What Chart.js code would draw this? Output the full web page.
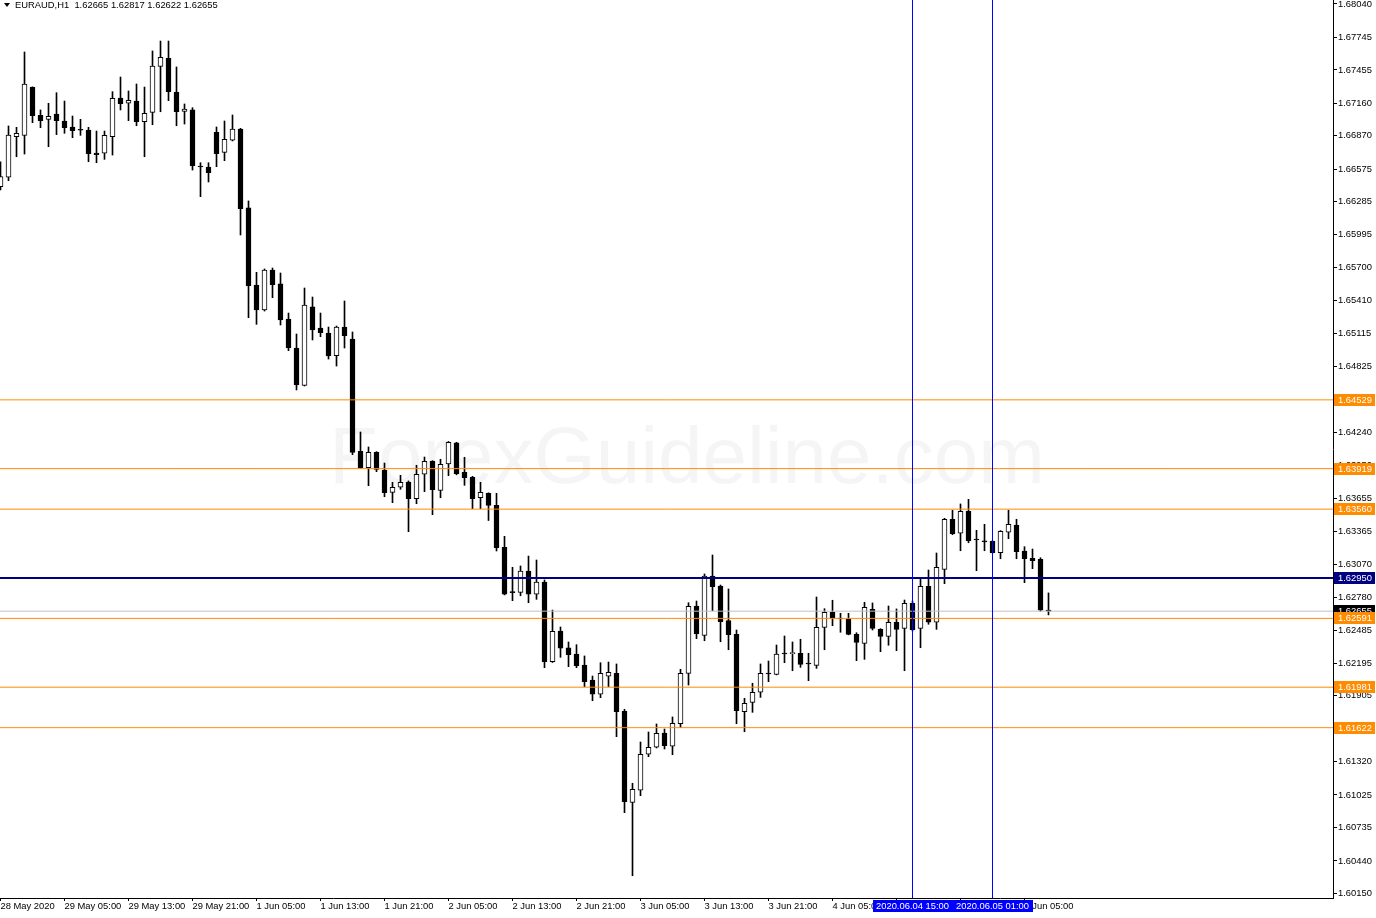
<!DOCTYPE html>
<html>
<head>
<meta charset="utf-8">
<script src="https://cdn.jsdelivr.net/npm/chart.js@4.4.0/dist/chart.umd.min.js"></script>
<style>
  html, body { margin: 0; padding: 0; background: #ffffff; }
  #wrap { width: 1376px; height: 918px; position: relative; }
</style>
</head>
<body>
<div id="wrap"><canvas id="chart"></canvas></div>
<script>
// EURAUD H1 candles, 28 May 21:00 .. 5 Jun 08:00 (one value per bar)
var opens = [1.66419,1.66503,1.66863,1.66875,1.67301,1.67053,1.67017,1.67064,1.67002,1.66949,
  1.66922,1.66922,1.66718,1.66716,1.66863,1.67206,1.67159,1.67179,1.66996,1.67079,
  1.67487,1.67558,1.67259,1.67088,1.67100,1.66603,1.66594,1.66902,1.66724,1.66831,
  1.66931,1.66231,1.65548,1.65326,1.65681,1.65557,1.65246,1.64989,1.64658,1.65353,
  1.65166,1.65122,1.64921,1.65175,1.65069,1.64073,1.63927,1.64064,1.63907,1.63709,
  1.63754,1.63801,1.63653,1.63869,1.63984,1.63727,1.63960,1.64147,1.63887,1.63842,
  1.63661,1.63700,1.63594,1.63222,1.62825,1.62822,1.63011,1.62805,1.62914,1.62207,
  1.62479,1.62329,1.62275,1.62178,1.62045,1.61918,1.62078,1.62104,1.61767,1.60960,
  1.61067,1.61386,1.61448,1.61575,1.61457,1.61657,1.62104,1.62701,1.62441,1.62967,
  1.62878,1.62571,1.62450,1.61764,1.61847,1.61936,1.62104,1.62095,1.62278,1.62278,
  1.62282,1.62193,1.62175,1.62512,1.62645,1.62592,1.62588,1.62450,1.62370,1.62672,
  1.62494,1.62432,1.62557,1.62503,1.62725,1.62503,1.62876,1.62557,1.63026,1.63470,
  1.63346,1.63541,1.63292,1.63275,1.63275,1.63174,1.63355,1.63419,1.63189,1.63124,
  1.63115,1.62665];
var highs = [1.66641,1.66958,1.66946,1.67614,1.67305,1.67100,1.67159,1.67253,1.67179,1.67046,
  1.67017,1.66946,1.66913,1.66913,1.67262,1.67392,1.67268,1.67330,1.67303,1.67623,
  1.67711,1.67711,1.67481,1.67153,1.67120,1.66632,1.66632,1.66949,1.67002,1.67055,
  1.66937,1.66293,1.65660,1.65690,1.65698,1.65654,1.65299,1.65113,1.65521,1.65441,
  1.65299,1.65175,1.65184,1.65406,1.65131,1.64244,1.64111,1.64070,1.63969,1.63798,
  1.63860,1.63810,1.63949,1.64022,1.63990,1.64002,1.64160,1.64153,1.64020,1.63851,
  1.63798,1.63705,1.63700,1.63319,1.63044,1.63056,1.63144,1.63109,1.62932,1.62665,
  1.62515,1.62382,1.62358,1.62258,1.62080,1.62198,1.62204,1.62187,1.61785,1.61129,
  1.61495,1.61584,1.61655,1.61610,1.61717,1.62140,1.62730,1.62745,1.62985,1.63153,
  1.62887,1.62852,1.62488,1.61882,1.62016,1.62187,1.62213,1.62355,1.62435,1.62382,
  1.62406,1.62282,1.62781,1.62677,1.62752,1.62636,1.62636,1.62464,1.62734,1.62728,
  1.62500,1.62701,1.62675,1.62754,1.62745,1.62947,1.63020,1.63171,1.63479,1.63550,
  1.63606,1.63647,1.63372,1.63425,1.63280,1.63370,1.63550,1.63470,1.63227,1.63206,
  1.63129,1.62817];
var lows = [1.66390,1.66473,1.66685,1.66709,1.66987,1.66943,1.66774,1.66881,1.66893,1.66854,
  1.66875,1.66641,1.66632,1.66662,1.66700,1.67100,1.67005,1.66960,1.66685,1.66969,
  1.67084,1.67182,1.66960,1.66975,1.66567,1.66331,1.66461,1.66597,1.66650,1.66825,
  1.65991,1.65258,1.65199,1.65317,1.65435,1.65193,1.64965,1.64617,1.64652,1.65060,
  1.65089,1.64891,1.64829,1.64989,1.64043,1.63920,1.63768,1.63892,1.63670,1.63617,
  1.63736,1.63360,1.63608,1.63715,1.63511,1.63661,1.63857,1.63865,1.63771,1.63564,
  1.63564,1.63459,1.63189,1.62799,1.62748,1.62792,1.62730,1.62760,1.62154,1.62200,
  1.62246,1.62163,1.62154,1.61985,1.61861,1.61888,1.61985,1.61542,1.60868,1.60309,
  1.61019,1.61365,1.61442,1.61433,1.61382,1.61622,1.62000,1.62411,1.62393,1.62659,
  1.62384,1.62313,1.61657,1.61586,1.61758,1.61891,1.62030,1.62090,1.62198,1.62127,
  1.62157,1.62039,1.62148,1.62313,1.62526,1.62468,1.62445,1.62216,1.62228,1.62488,
  1.62296,1.62353,1.62305,1.62127,1.62479,1.62331,1.62539,1.62494,1.62899,1.63333,
  1.63191,1.63262,1.63014,1.63191,1.63170,1.63120,1.63298,1.63120,1.62908,1.63032,
  1.62655,1.62622];
var closes = [1.66508,1.66878,1.66893,1.67330,1.67049,1.67005,1.67044,1.67005,1.66943,1.66916,
  1.66920,1.66712,1.66703,1.66875,1.67203,1.67155,1.67186,1.66996,1.67070,1.67490,
  1.67567,1.67262,1.67084,1.67108,1.66606,1.66594,1.66544,1.66712,1.66840,1.66931,
  1.66224,1.65541,1.65326,1.65681,1.65550,1.65237,1.64989,1.64661,1.65370,1.65149,
  1.65125,1.64918,1.65175,1.65098,1.64064,1.63927,1.64064,1.63913,1.63706,1.63754,
  1.63798,1.63653,1.63869,1.63984,1.63732,1.63958,1.64153,1.63874,1.63839,1.63653,
  1.63709,1.63592,1.63218,1.62807,1.62819,1.63011,1.62805,1.62914,1.62207,1.62477,
  1.62326,1.62269,1.62172,1.62030,1.61918,1.62104,1.62113,1.61764,1.60966,1.61076,
  1.61386,1.61448,1.61572,1.61462,1.61661,1.62104,1.62698,1.62455,1.62967,1.62872,
  1.62562,1.62446,1.61773,1.61838,1.61936,1.62104,1.62098,1.62275,1.62275,1.62282,
  1.62184,1.62187,1.62512,1.62645,1.62592,1.62586,1.62450,1.62379,1.62689,1.62503,
  1.62432,1.62557,1.62494,1.62725,1.62491,1.62876,1.62557,1.63044,1.63470,1.63342,
  1.63541,1.63280,1.63286,1.63269,1.63174,1.63363,1.63425,1.63182,1.63120,1.63103,
  1.62665,1.62655];

// time axis: one label every 8 bars
var timeTickBars = [0, 8, 16, 24, 32, 40, 48, 56, 64, 72, 80, 88, 96, 104, 112, 120, 128];
var timeLabels = ["28 May 2020", "29 May 05:00", "29 May 13:00", "29 May 21:00", "1 Jun 05:00",
  "1 Jun 13:00", "1 Jun 21:00", "2 Jun 05:00", "2 Jun 13:00", "2 Jun 21:00", "3 Jun 05:00",
  "3 Jun 13:00", "3 Jun 21:00", "4 Jun 05:00", "4 Jun 13:00", "4 Jun 21:00", "5 Jun 05:00"];

var priceTicks = [1.68040, 1.67745, 1.67455, 1.67160, 1.66870, 1.66575, 1.66285, 1.65995,
  1.65700, 1.65410, 1.65115, 1.64825, 1.64530, 1.64240, 1.63950, 1.63655, 1.63365, 1.63070,
  1.62780, 1.62485, 1.62195, 1.61905, 1.61610, 1.61320, 1.61025, 1.60735, 1.60440, 1.60150];

// horizontal levels drawn on the chart
var levelPrices = [1.64529, 1.63919, 1.63560, 1.62591, 1.61981, 1.61622];
var pivotPrice = 1.62950;
var bidPrice = 1.62655;
var title = "EURAUD,H1  1.62665 1.62817 1.62622 1.62655";

// vertical lines
var markerBars = [114, 124];
var markerLabels = ["2020.06.04 15:00", "2020.06.05 01:00"];

var FONT = '"Liberation Sans", Arial, sans-serif';
var FSIZE = 9.4;
var ORANGE = "#FF8C00";

var xMin = -0.0625, xMax = xMin + 1333 / 8;
var yMax = 1.68075, yMin = yMax - 898 * 0.00008868;

var bodies = [], wicks = [], bodyColors = [];
for (var i = 0; i < opens.length; i++) {
  bodies.push({ x: i, y: [opens[i], closes[i]] });
  wicks.push({ x: i, y: [lows[i], highs[i]] });
  bodyColors.push(closes[i] > opens[i] ? "#ffffff" : "#000000");
}

function hLine(price, color, width) {
  return {
    type: "line",
    data: [{ x: xMin, y: price }, { x: xMax, y: price }],
    borderColor: color, borderWidth: width,
    pointRadius: 0, fill: false, order: -1
  };
}
function vLine(bar) {
  return {
    type: "line",
    data: [{ x: bar, y: yMin }, { x: bar, y: yMax }],
    borderColor: "#0000FF", borderWidth: 1,
    pointRadius: 0, fill: false, order: -2
  };
}

var datasets = [
  { type: "bar", data: wicks, backgroundColor: "#000000", borderWidth: 0,
    barThickness: 1, grouped: false, order: 2 },
  { type: "bar", data: bodies, backgroundColor: bodyColors, borderColor: "#000000",
    borderWidth: 1, borderSkipped: false, barThickness: 5, minBarLength: 1,
    grouped: false, order: 1 }
];
levelPrices.forEach(function (p) { datasets.push(hLine(p, ORANGE, 1)); });
datasets.push(hLine(bidPrice, "#C0C0C0", 1));
datasets.push(hLine(pivotPrice, "#000080", 2));
markerBars.forEach(function (b) { datasets.push(vLine(b)); });

var overlay = {
  id: "overlay",
  beforeDatasetsDraw: function (chart) {
    var ctx = chart.ctx;
    ctx.save();
    ctx.font = '80px ' + FONT;
    ctx.fillStyle = "rgba(0,0,0,0.04)";
    ctx.textAlign = "center";
    ctx.textBaseline = "middle";
    ctx.fillText("ForexGuideline.com", 687, 461);
    ctx.restore();
  },
  afterDraw: function (chart) {
    var ctx = chart.ctx, y = chart.scales.y, x = chart.scales.x;
    ctx.save();
    ctx.font = FSIZE + 'px ' + FONT;
    ctx.textBaseline = "middle";
    function tag(price, bg) {
      var py = Math.round(y.getPixelForValue(price));
      ctx.fillStyle = bg;
      ctx.fillRect(1334, py - 6, 41, 12);
      ctx.fillStyle = "#ffffff";
      ctx.textAlign = "left";
      ctx.fillText(price.toFixed(5), 1338, py + 0.5);
    }
    tag(bidPrice, "#000000");
    tag(pivotPrice, "#000080");
    levelPrices.forEach(function (p) { tag(p, ORANGE); });

    markerBars.forEach(function (b, k) {
      var px = x.getPixelForValue(b);
      ctx.fillStyle = "#0000FF";
      ctx.fillRect(Math.round(px - 39.5), 900, 80, 12);
      ctx.fillStyle = "#ffffff";
      ctx.textAlign = "center";
      ctx.fillText(markerLabels[k], px, 906.5);
    });

    ctx.fillStyle = "#000000";
    ctx.beginPath();
    ctx.moveTo(4, 3); ctx.lineTo(10, 3); ctx.lineTo(7, 7); ctx.closePath();
    ctx.fill();
    ctx.textAlign = "left";
    ctx.fillText(title, 15, 5.5);
    ctx.restore();
  }
};

new Chart(document.getElementById("chart").getContext("2d"), {
  type: "bar",
  data: { datasets: datasets },
  options: {
    responsive: true,
    maintainAspectRatio: false,
    animation: false,
    events: [],
    layout: { padding: 0 },
    plugins: { legend: { display: false }, tooltip: { enabled: false } },
    scales: {
      x: {
        type: "linear", min: xMin, max: xMax, offset: false,
        grid: { drawOnChartArea: false, drawTicks: true, tickLength: 3, color: "#000000", offset: false },
        border: { display: true, color: "#000000" },
        ticks: {
          autoSkip: false, maxRotation: 0, padding: 0, align: "start",
          color: "#000000", font: { family: FONT, size: FSIZE },
          callback: function (v, idx) { return timeLabels[idx]; }
        },
        afterBuildTicks: function (s) {
          s.ticks = timeTickBars.map(function (b) { return { value: b }; });
        },
        afterFit: function (s) {
          s.height = 20;
          s.paddingLeft = 0; s.paddingRight = 0;
        }
      },
      y: {
        type: "linear", position: "right", min: yMin, max: yMax,
        grid: { drawOnChartArea: false, drawTicks: true, tickLength: 4, color: "#000000" },
        border: { display: true, color: "#000000" },
        ticks: {
          autoSkip: false, padding: 1, color: "#000000", font: { family: FONT, size: FSIZE },
          callback: function (v) { return v.toFixed(5); }
        },
        afterBuildTicks: function (s) {
          s.ticks = priceTicks.map(function (p) { return { value: p }; });
        },
        afterFit: function (s) {
          s.width = 43;
          s.paddingTop = 0; s.paddingBottom = 0;
        }
      }
    }
  },
  plugins: [overlay]
});
</script>
</body>
</html>
